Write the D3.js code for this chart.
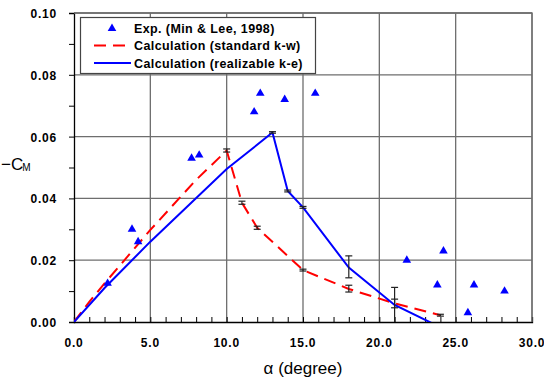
<!DOCTYPE html>
<html>
<head>
<meta charset="utf-8">
<script src="https://cdn.jsdelivr.net/npm/d3@7"></script>
<style>
  body { margin: 0; background: #fff; }
  svg { display: block; font-family: Arial, "Liberation Sans", sans-serif; }
</style>
</head>
<body>
<svg id="chart" width="544" height="380"></svg>
<script>
// experimental data (Min & Lee, 1998)
const expAlpha = [2.2, 3.8, 4.2, 7.7, 8.2, 11.8, 12.2, 13.8, 15.8, 21.8, 23.8, 24.2, 25.8, 26.2, 28.2];
const expCm = [0.0125, 0.030, 0.026, 0.053, 0.054, 0.068, 0.074, 0.072, 0.074, 0.020, 0.012, 0.023, 0.003, 0.012, 0.010];

// standard k-w calculation
const kwAlpha = [0, 1, 2, 5, 8, 10, 11, 12, 15, 18, 21, 24];
const kwCm = [0, 0.0065, 0.0125, 0.0298, 0.046, 0.0555, 0.0386, 0.0305, 0.0168, 0.0107, 0.006, 0.0022];

// realizable k-e calculation
const keAlpha = [0, 2, 5, 10, 13, 14, 15, 18, 21, 24];
const keCm = [0, 0.011, 0.026, 0.0495, 0.0613, 0.0424, 0.0371, 0.0176, 0.0055, -0.0017];

// error bars: alpha, low, high
const kwErrAlpha = [10, 11, 12, 15, 18, 21, 24];
const kwErrLo = [0.0550, 0.0381, 0.0300, 0.0165, 0.0097, 0.0046, 0.0019];
const kwErrHi = [0.0560, 0.0391, 0.0310, 0.0171, 0.0119, 0.0074, 0.0025];
const keErrAlpha = [13, 14, 15, 18, 21];
const keErrLo = [0.0611, 0.0421, 0.0368, 0.0143, -0.001];
const keErrHi = [0.0616, 0.0427, 0.0374, 0.0214, 0.0112];

const xTicks = [0, 5, 10, 15, 20, 25, 30];
const yTicks = [0, 0.02, 0.04, 0.06, 0.08, 0.10];

const legendLabels = ['Exp. (Min & Lee, 1998)', 'Calculation (standard k-w)', 'Calculation (realizable k-e)'];

const width = 544, height = 380;
const margin = { left: 74, right: 12, top: 13, bottom: 58 };

const svg = d3.select('#chart');

const x = d3.scaleLinear().domain([0, 30]).range([margin.left, width - margin.right]);
const y = d3.scaleLinear().domain([0, 0.10]).range([height - margin.bottom, margin.top]);

const gridColor = '#6e6e6e';

// grid lines
svg.append('g')
    .selectAll('line')
    .data(xTicks.slice(1))
    .join('line')
    .attr('x1', d => x(d)).attr('x2', d => x(d))
    .attr('y1', y(0)).attr('y2', y(0.10))
    .attr('stroke', gridColor).attr('stroke-width', 1.3);

svg.append('g')
    .selectAll('line')
    .data(yTicks.slice(1))
    .join('line')
    .attr('x1', x(0)).attr('x2', x(30))
    .attr('y1', d => y(d)).attr('y2', d => y(d))
    .attr('stroke', gridColor).attr('stroke-width', 1.3);

// x axis: minor ticks pointing inward
const xAxis = svg.append('g')
    .attr('transform', `translate(0, ${y(0)})`)
    .call(d3.axisBottom(x).tickValues(d3.range(0, 31, 1)).tickSize(-5).tickFormat(''));
xAxis.select('.domain').attr('stroke', '#000').attr('stroke-width', 1.3);
xAxis.selectAll('.tick line').attr('stroke', '#000');

svg.append('g')
    .selectAll('text')
    .data(xTicks)
    .join('text')
    .attr('x', d => x(d))
    .attr('y', y(0) + 25)
    .attr('text-anchor', 'middle')
    .style('font-size', '12px')
    .style('font-weight', 'bold')
    .style('letter-spacing', '0.8px')
    .text(d => d3.format('.1f')(d));

// y axis: ticks outward
const yAxis = svg.append('g')
    .attr('transform', `translate(${x(0)}, 0)`)
    .call(d3.axisLeft(y).tickValues(d3.range(0, 0.1001, 0.01)).tickSize(5).tickFormat(''));
yAxis.select('.domain').attr('stroke', '#000').attr('stroke-width', 1.3);
yAxis.selectAll('.tick line').attr('stroke', '#000');

svg.append('g')
    .selectAll('text')
    .data(yTicks)
    .join('text')
    .attr('x', x(0) - 17)
    .attr('y', d => y(d) + 5)
    .attr('text-anchor', 'end')
    .style('font-size', '12px')
    .style('font-weight', 'bold')
    .style('letter-spacing', '0.8px')
    .text(d => d3.format('.2f')(d));

// frame top/right
svg.append('path')
    .attr('d', `M${x(0)},${y(0.10)}H${x(30)}V${y(0)}`)
    .attr('fill', 'none')
    .attr('stroke', gridColor)
    .attr('stroke-width', 1.3);

// clip for the plot area
svg.append('clipPath').attr('id', 'plot-clip')
    .append('rect')
    .attr('x', x(0)).attr('y', y(0.10))
    .attr('width', x(30) - x(0)).attr('height', y(0) - y(0.10));

const plot = svg.append('g').attr('clip-path', 'url(#plot-clip)');

const line = d3.line().x(d => x(d[0])).y(d => y(d[1]));

// red dashed k-w
plot.append('path')
    .datum(d3.zip(kwAlpha, kwCm))
    .attr('d', line)
    .attr('fill', 'none')
    .attr('stroke', '#ff0000')
    .attr('stroke-width', 2)
    .attr('stroke-dasharray', '12,7');

// blue solid k-e
plot.append('path')
    .datum(d3.zip(keAlpha, keCm))
    .attr('d', line)
    .attr('fill', 'none')
    .attr('stroke', '#0000ff')
    .attr('stroke-width', 2);

// error bars
function drawErr(alphas, lo, hi) {
    const g = plot.append('g').attr('stroke', '#222').attr('stroke-width', 1.2);
    alphas.forEach((a, i) => {
        const cx = x(a);
        g.append('line').attr('x1', cx).attr('x2', cx).attr('y1', y(lo[i])).attr('y2', y(hi[i]));
        g.append('line').attr('x1', cx - 3.5).attr('x2', cx + 3.5).attr('y1', y(lo[i])).attr('y2', y(lo[i]));
        g.append('line').attr('x1', cx - 3.5).attr('x2', cx + 3.5).attr('y1', y(hi[i])).attr('y2', y(hi[i]));
    });
}
drawErr(kwErrAlpha, kwErrLo, kwErrHi);
drawErr(keErrAlpha, keErrLo, keErrHi);

// experimental triangles
const tri = d3.symbol().type(d3.symbolTriangle).size(32);
plot.append('g')
    .selectAll('path')
    .data(d3.zip(expAlpha, expCm))
    .join('path')
    .attr('transform', d => `translate(${x(d[0])}, ${y(d[1])})`)
    .attr('d', tri)
    .attr('fill', '#0000ff');

// legend
const legend = svg.append('g');
legend.append('rect')
    .attr('x', 80.5).attr('y', 17.5)
    .attr('width', 235).attr('height', 56)
    .attr('fill', '#fff')
    .attr('stroke', '#444')
    .attr('stroke-width', 1.2);

const rowY = [28.5, 45.5, 63];
legend.append('path')
    .attr('transform', `translate(112, ${rowY[0]})`)
    .attr('d', tri)
    .attr('fill', '#0000ff');
legend.append('line')
    .attr('x1', 94).attr('x2', 131).attr('y1', rowY[1]).attr('y2', rowY[1])
    .attr('stroke', '#ff0000').attr('stroke-width', 2).attr('stroke-dasharray', '12,7');
legend.append('line')
    .attr('x1', 94).attr('x2', 131).attr('y1', rowY[2]).attr('y2', rowY[2])
    .attr('stroke', '#0000ff').attr('stroke-width', 2);

legend.selectAll('text.lbl')
    .data(legendLabels)
    .join('text')
    .attr('class', 'lbl')
    .attr('x', 134)
    .attr('y', (d, i) => rowY[i] + 4.5)
    .style('font-size', '12.5px')
    .style('font-weight', 'bold')
    .style('letter-spacing', '0.4px')
    .text(d => d);

// axis titles
svg.append('text')
    .attr('x', 303)
    .attr('y', 374)
    .attr('text-anchor', 'middle')
    .style('font-size', '17px')
    .text('α (degree)');

const yl = svg.append('text')
    .attr('x', 1)
    .attr('y', 170)
    .style('font-size', '17px');
yl.append('tspan').text('−C');
yl.append('tspan').attr('dx', -1).attr('dy', 1).style('font-size', '10px').text('M');
</script>
</body>
</html>
